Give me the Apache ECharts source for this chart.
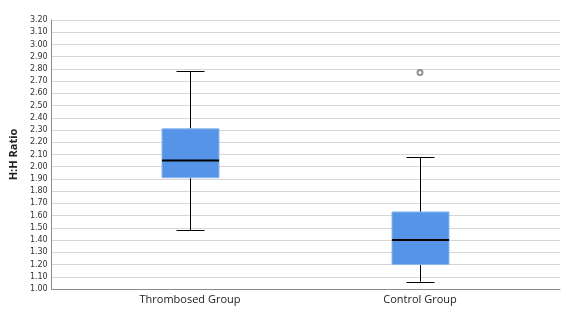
<!DOCTYPE html>
<html>
<head>
<meta charset="utf-8">
<script src="https://cdn.jsdelivr.net/npm/echarts@6/dist/echarts.min.js"></script>
<style>
  html, body { margin: 0; padding: 0; background: #fff; }
  #chart { width: 567px; height: 334px; }
</style>
</head>
<body>
<div id="chart"></div>
<script>
// box plot summary per group
const groups = ['Thrombosed Group', 'Control Group'];
const whiskerLow = [1.48, 1.06];
const q1 = [1.91, 1.20];
const median = [2.05, 1.40];
const q3 = [2.31, 1.63];
const whiskerHigh = [2.78, 2.08];
// [group index, value]
const outliers = [[1, 2.77]];

const boxData = groups.map((g, i) => [i, whiskerLow[i], q1[i], median[i], q3[i], whiskerHigh[i]]);

const BOX_W = 57;
const CAP_W = 28;

function renderBox(params, api) {
    const x = api.value(0);
    const lo = api.coord([x, api.value(1)]);
    const b1 = api.coord([x, api.value(2)]);
    const md = api.coord([x, api.value(3)]);
    const b3 = api.coord([x, api.value(4)]);
    const hi = api.coord([x, api.value(5)]);
    const cx = Math.round(lo[0]) + 0.5;
    const line = { stroke: '#000', lineWidth: 1 };
    return {
        type: 'group',
        children: [
            { type: 'line', shape: { x1: cx, y1: hi[1], x2: cx, y2: b3[1] }, style: line },
            { type: 'line', shape: { x1: cx, y1: b1[1], x2: cx, y2: lo[1] }, style: line },
            { type: 'line', shape: { x1: cx - CAP_W / 2, y1: Math.round(hi[1]) + 0.5, x2: cx + CAP_W / 2, y2: Math.round(hi[1]) + 0.5 }, style: line },
            { type: 'line', shape: { x1: cx - CAP_W / 2, y1: Math.round(lo[1]) + 0.5, x2: cx + CAP_W / 2, y2: Math.round(lo[1]) + 0.5 }, style: line },
            {
                type: 'rect',
                shape: { x: cx - BOX_W / 2, y: b3[1], width: BOX_W, height: b1[1] - b3[1] },
                style: { fill: '#5594e6', stroke: '#8db8f0', lineWidth: 1 }
            },
            { type: 'line', shape: { x1: cx - BOX_W / 2, y1: md[1], x2: cx + BOX_W / 2, y2: md[1] }, style: { stroke: '#000', lineWidth: 2 } }
        ]
    };
}

const chart = echarts.init(document.getElementById('chart'));
const yCommon = { type: 'value', min: 1, max: 3.2, interval: 0.1 };

chart.setOption({
    animation: false,
    grid: [
        { left: 50, right: 7, top: 20, bottom: 45 },
        { left: 75, right: 32, top: 20, bottom: 45 }
    ],
    xAxis: [
        {
            type: 'category', gridIndex: 0, data: [''],
            axisLine: { lineStyle: { color: '#8c8c8c' } },
            axisTick: { show: false }, axisLabel: { show: false }
        },
        {
            type: 'category', gridIndex: 1, data: groups,
            axisLine: { show: false }, axisTick: { show: false },
            axisLabel: { color: '#222', fontSize: 11, fontFamily: 'Open Sans', margin: 5 }
        }
    ],
    yAxis: [
        Object.assign({}, yCommon, {
            gridIndex: 0,
            name: 'H:H Ratio', nameLocation: 'middle', nameGap: 25,
            nameTextStyle: { fontWeight: 'bold', fontSize: 11, color: '#222', fontFamily: 'Open Sans' },
            axisLine: { show: true, lineStyle: { color: '#8c8c8c' } },
            axisTick: { show: false },
            axisLabel: {
                color: '#333', fontSize: 8, fontFamily: 'DejaVu Sans', margin: 4,
                formatter: v => v.toFixed(2)
            },
            splitLine: { lineStyle: { color: '#d6d6d6' } }
        }),
        Object.assign({}, yCommon, {
            gridIndex: 1, show: false, splitLine: { show: false }
        })
    ],
    series: [
        {
            type: 'custom', xAxisIndex: 1, yAxisIndex: 1,
            renderItem: renderBox, data: boxData,
            encode: { x: 0, y: [1, 2, 3, 4, 5] }
        },
        {
            type: 'scatter', xAxisIndex: 1, yAxisIndex: 1, z: 5,
            data: outliers, symbol: 'emptyCircle', symbolSize: 5,
            itemStyle: { color: '#777', borderColor: '#777', borderWidth: 0.8 }
        }
    ]
});
</script>
</body>
</html>
